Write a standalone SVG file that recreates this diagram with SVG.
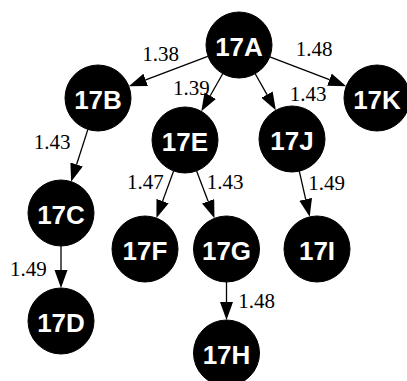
<svg xmlns="http://www.w3.org/2000/svg" width="407" height="381" viewBox="0 0 407 381">
  <style>
    .node circle { fill: #000; stroke: #000; stroke-width: 1; }
    .node text { font-family: "Liberation Sans", Arial, sans-serif; font-weight: bold; font-size: 26px; fill: #fff; text-anchor: middle; }
    .edges line { stroke: #000; stroke-width: 1.3; marker-end: url(#arr); }
    .edges text { font-family: "Liberation Serif", "Times New Roman", serif; font-size: 21px; fill: #000; text-anchor: middle; }
  </style>
  <defs>
    <marker id="arr" markerUnits="userSpaceOnUse" markerWidth="19" markerHeight="14" refX="0" refY="6.5" orient="auto">
      <path d="M0,0 L18,6.5 L0,13 Z" fill="#000"/>
    </marker>
  </defs>
  <rect width="407" height="381" fill="#fff"/>

  <g id="edges" class="edges">
    <line x1="207.8" y1="56.4" x2="145.7" y2="79.9"/>
    <line x1="222.7" y1="73.7" x2="210.2" y2="95.7"/>
    <line x1="255.2" y1="73.7" x2="267.0" y2="94.6"/>
    <line x1="269.8" y1="56.8" x2="329.4" y2="79.7"/>
    <line x1="87.9" y1="129.4" x2="76.6" y2="164.5"/>
    <line x1="61" y1="246" x2="61" y2="270"/>
    <line x1="173.6" y1="171" x2="162.6" y2="201.1"/>
    <line x1="196.6" y1="170.9" x2="208.1" y2="201.3"/>
    <line x1="299.3" y1="171.2" x2="305.7" y2="199.3"/>
    <line x1="226.5" y1="282" x2="226.5" y2="302"/>
    <text x="160.5" y="61">1.38</text>
    <text x="191.3" y="94.5">1.39</text>
    <text x="308" y="101.2">1.43</text>
    <text x="314" y="56.2">1.48</text>
    <text x="52" y="148.8">1.43</text>
    <text x="28.3" y="276.2">1.49</text>
    <text x="145.3" y="188.5">1.47</text>
    <text x="225" y="188.5">1.43</text>
    <text x="326.7" y="190.2">1.49</text>
    <text x="256.7" y="307.5">1.48</text>
  </g>

  <g id="n17A" class="node"><circle cx="239" cy="45" r="33"/><text x="239" y="56">17A</text></g>
  <g id="n17B" class="node"><circle cx="98" cy="98" r="33"/><text x="98" y="109">17B</text></g>
  <g id="n17K" class="node"><circle cx="377" cy="98" r="33"/><text x="377" y="109">17K</text></g>
  <g id="n17E" class="node"><circle cx="185" cy="140" r="33"/><text x="185" y="151">17E</text></g>
  <g id="n17J" class="node"><circle cx="292" cy="139" r="33"/><text x="292" y="150">17J</text></g>
  <g id="n17C" class="node"><circle cx="61" cy="213" r="33"/><text x="61" y="224">17C</text></g>
  <g id="n17D" class="node"><circle cx="61" cy="321" r="33"/><text x="61" y="332">17D</text></g>
  <g id="n17F" class="node"><circle cx="145" cy="249" r="33"/><text x="145" y="260">17F</text></g>
  <g id="n17G" class="node"><circle cx="226.5" cy="249" r="33"/><text x="226.5" y="260">17G</text></g>
  <g id="n17I" class="node"><circle cx="317" cy="249" r="33"/><text x="317" y="260">17I</text></g>
  <g id="n17H" class="node"><circle cx="226.5" cy="353" r="33"/><text x="226.5" y="364">17H</text></g>
</svg>
